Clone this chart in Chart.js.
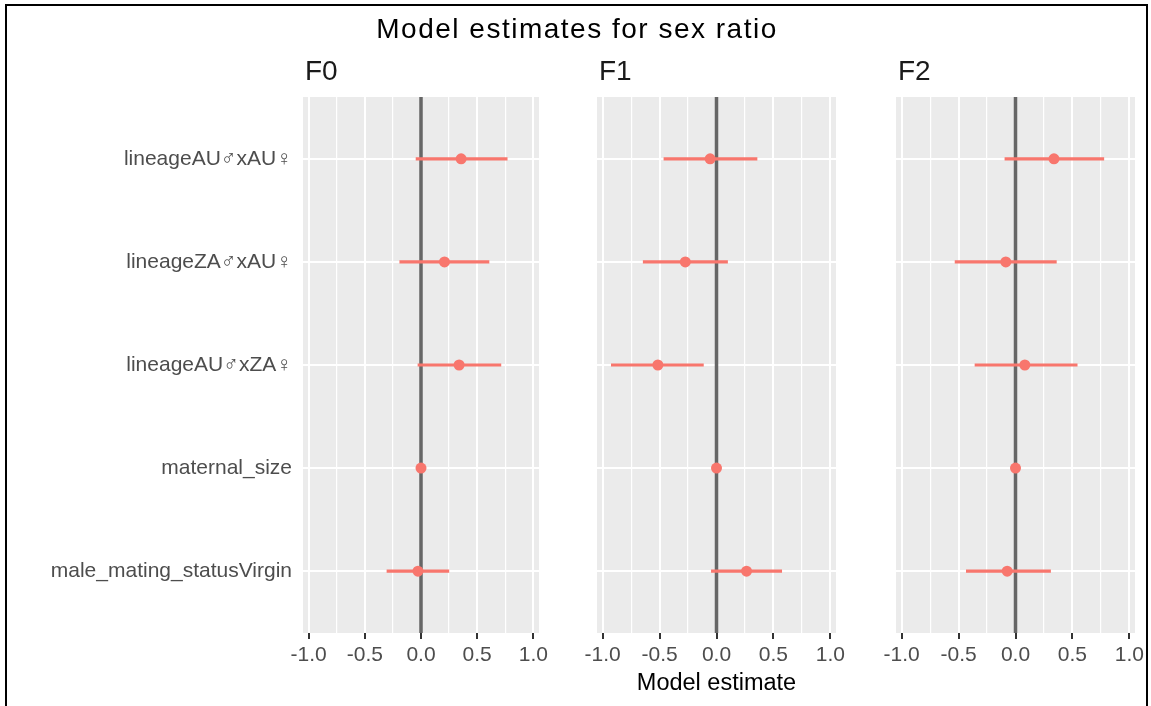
<!DOCTYPE html>
<html>
<head>
<meta charset="utf-8">
<script src="https://cdn.jsdelivr.net/npm/chart.js@4/dist/chart.umd.min.js"></script>
<style>
  html, body { margin: 0; padding: 0; background: #fff; overflow: hidden; }
  #wrap { position: relative; width: 1151px; height: 706px; }
  #frame { position: absolute; left: 5px; top: 4px; width: 1143px; height: 720px;
           border: 2px solid #000; box-sizing: border-box; }
  .panel { position: absolute; left: 0; top: 0; width: 1151px; height: 706px; }
</style>
</head>
<body>
<div id="wrap">
  <div id="frame"></div>
  <div class="panel"><canvas id="f0"></canvas></div>
  <div class="panel"><canvas id="f1"></canvas></div>
  <div class="panel"><canvas id="f2"></canvas></div>
</div>
<script>
// data
const categories = ['lineageAU♂xAU♀', 'lineageZA♂xAU♀', 'lineageAU♂xZA♀', 'maternal_size', 'male_mating_statusVirgin'];
const facets = ['F0', 'F1', 'F2'];
const xTicks = [-1, -0.75, -0.5, -0.25, 0, 0.25, 0.5, 0.75, 1];

const f0Est  = [0.357, 0.209, 0.339, 0.000, -0.027];
const f0Low  = [-0.044, -0.189, -0.027, -0.005, -0.303];
const f0High = [0.767, 0.605, 0.711, 0.005, 0.248];

const f1Est  = [-0.056, -0.274, -0.515, 0.000, 0.264];
const f1Low  = [-0.462, -0.644, -0.924, -0.005, -0.045];
const f1High = [0.356, 0.097, -0.115, 0.005, 0.573];

const f2Est  = [0.338, -0.085, 0.082, 0.000, -0.073];
const f2Low  = [-0.093, -0.531, -0.356, -0.005, -0.432];
const f2High = [0.776, 0.359, 0.542, 0.005, 0.308];

const series = [[f0Est, f0Low, f0High], [f1Est, f1Low, f1High], [f2Est, f2Low, f2High]];

// panel edges in px (left, right)
const panelBox = [[303, 539], [597, 836], [896, 1135]];
const panelTop = 97, axisHeight = 73, W = 1151;
const red = '#F8766D';

Chart.defaults.font.family = '"Liberation Sans", Arial, "DejaVu Sans", sans-serif';

const facetPlugin = {
    id: 'facet',
    beforeDraw(chart) {           // grey panel
        const a = chart.chartArea, ctx = chart.ctx;
        ctx.save();
        ctx.fillStyle = '#EBEBEB';
        ctx.fillRect(a.left, a.top, a.right - a.left, a.bottom - a.top);
        ctx.restore();
    },
    beforeDatasetsDraw(chart) {   // vertical line at 0
        const a = chart.chartArea, ctx = chart.ctx;
        const x = chart.scales.x.getPixelForValue(0);
        ctx.save();
        ctx.strokeStyle = '#666666';
        ctx.lineWidth = 3.5;
        ctx.beginPath();
        ctx.moveTo(x, a.top);
        ctx.lineTo(x, a.bottom);
        ctx.stroke();
        ctx.restore();
    },
    afterDraw(chart, args, opts) {
        const ctx = chart.ctx;
        ctx.save();
        ctx.fillStyle = '#1A1A1A';
        ctx.font = '28px ' + Chart.defaults.font.family;
        ctx.textBaseline = 'alphabetic';
        ctx.fillText(opts.label, chart.chartArea.left + 2, 80);
        if (opts.title) {
            ctx.fillStyle = '#000';
            ctx.font = '28px ' + Chart.defaults.font.family;
            ctx.letterSpacing = '1.5px';
            ctx.textAlign = 'center';
            ctx.fillText(opts.title, 577, 38);
        }
        ctx.restore();
    }
};

facets.forEach(function (name, p) {
    const [est, low, high] = series[p];
    const [left, right] = panelBox[p];
    const first = p === 0;
    const padLeft = first ? 0 : left;

    new Chart(document.getElementById(name.toLowerCase()), {
        type: 'scatter',
        data: {
            datasets: [{
                type: 'scatter',
                label: 'estimate',
                data: est.map((v, i) => ({x: v, y: i})),
                pointRadius: 5.5,
                pointBackgroundColor: red,
                pointBorderWidth: 0,
                order: 0
            }, {
                type: 'bar',
                label: 'interval',
                indexAxis: 'y',
                data: low.map((v, i) => ({x: [v, high[i]], y: i})),
                backgroundColor: red,
                borderWidth: 0,
                barThickness: 2.5,
                order: 1
            }]
        },
        options: {
            responsive: true,
            maintainAspectRatio: false,
            animation: false,
            events: [],
            layout: { padding: { left: padLeft, right: W - right, top: panelTop, bottom: 0 } },
            plugins: {
                legend: { display: false },
                tooltip: { enabled: false },
                facet: { label: name, title: p === 1 ? 'Model estimates for sex ratio' : null }
            },
            scales: {
                x: {
                    type: 'linear',
                    min: -1.05,
                    max: 1.05,
                    offset: false,
                    afterBuildTicks: s => { s.ticks = xTicks.map(v => ({value: v})); },
                    afterFit: s => { s.height = axisHeight; },
                    border: { display: false },
                    grid: {
                        color: '#FFFFFF',
                        lineWidth: c => (c.tick && Math.abs(c.tick.value * 2 % 1) < 1e-9) ? 2 : 1.2,
                        tickColor: c => (c.tick && Math.abs(c.tick.value * 2 % 1) < 1e-9) ? '#333333' : 'rgba(0,0,0,0)',
                        tickLength: 6,
                        tickWidth: 2
                    },
                    ticks: {
                        autoSkip: false,
                        maxRotation: 0,
                        padding: 4,
                        color: '#4D4D4D',
                        font: { size: 21 },
                        callback: v => Math.abs(v * 2 % 1) < 1e-9 ? v.toFixed(1) : ''
                    },
                    title: {
                        display: p === 1,
                        text: 'Model estimate',
                        color: '#000000',
                        font: { size: 23.5 },
                        padding: { top: 0, bottom: 8 }
                    }
                },
                y: {
                    type: 'linear',
                    reverse: true,
                    min: -0.6,
                    max: 4.6,
                    offset: false,
                    afterBuildTicks: s => { s.ticks = categories.map((c, i) => ({value: i})); },
                    afterFit: s => { s.width = left - padLeft; },
                    border: { display: false },
                    grid: { color: '#FFFFFF', lineWidth: 2, offset: false, drawTicks: false },
                    ticks: {
                        display: first,
                        autoSkip: false,
                        padding: 11,
                        color: '#4D4D4D',
                        font: { size: 21 },
                        callback: v => categories[v]
                    }
                }
            }
        },
        plugins: [facetPlugin]
    });
});
</script>
</body>
</html>
